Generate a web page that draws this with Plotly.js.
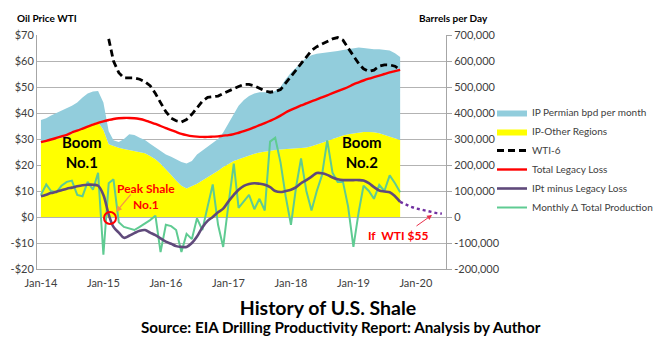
<!DOCTYPE html>
<html>
<head>
<meta charset="utf-8">
<script src="https://cdn.plot.ly/plotly-3.0.1.min.js"></script>
<style>html,body{margin:0;padding:0;background:#fff;}#chart{width:662px;height:352px;}</style>
</head>
<body>
<div id="chart"></div>
<script>
// Monthly data, Jan-2014 .. Oct-2019 (70 months); production values in thousand barrels per day
var startYear = 2014;
var months = [];
for (var i = 0; i < 70; i++) {
  var y = startYear + Math.floor(i / 12), m = (i % 12) + 1;
  months.push(y + '-' + (m < 10 ? '0' + m : m) + '-01');
}
var projMonths = [];
for (var j = 69; j <= 77; j++) {
  var yy = startYear + Math.floor(j / 12), mm = (j % 12) + 1;
  projMonths.push(yy + '-' + (mm < 10 ? '0' + mm : mm) + '-01');
}

var ipOther = [285,290,295,300,305,310,320,330,340,350,360,365,
  335,280,272,266,262,258,254,250,245,235,222,205,
  185,162,140,120,110,118,128,140,152,165,178,192,
  205,215,222,230,237,243,248,252,256,258,260,262,
  263,264,265,267,272,278,285,292,300,307,313,318,
  322,325,327,327,326,322,316,310,303,296];

var ipPermian = [88,90,95,100,103,107,108,110,120,125,123,120,
  105,50,23,22,38,60,61,55,51,47,46,47,
  55,70,82,92,96,97,112,115,116,120,122,133,
  155,180,206,220,228,232,232,228,224,227,240,268,
  292,311,330,345,350,350,345,341,335,331,329,327,
  326,327,323,320,319,323,327,330,327,319];

// WTI-6 in $/bbl (starts Feb-2015)
var wti6 = [null,null,null,null,null,null,null,null,null,null,null,null,
  null,68.5,60,55.5,53.5,53.5,53.5,53,52,50.5,47.5,44,
  40.5,38,37,36.5,37.5,39.5,42,44.5,46,46.3,46.5,47.5,
  48.5,49.5,50.2,51,51,50.5,49.6,48.5,48,48.3,49,51.5,
  54,56.5,59,61.5,64,65.5,66.5,67.5,68.5,69,68,65,
  62,59,57,56,56.5,58,58.5,58.5,58,56.5];

var legacyLoss = [288,293,298,304,310,316,325,332,340,348,355,362,
  368,373,377,380,381,381,380,377,372,365,358,350,
  342,334,327,320,315,311,309,308,308,309,310,313,
  315,319,324,330,337,345,353,361,370,379,390,402,
  412,421,429,437,445,452,460,468,476,484,492,500,
  510,518,525,532,538,544,550,556,561,566];

var iptMinusLegacy = [80,86,92,97,103,109,113,118,122,124,124,120,
  85,10,-38,-60,-80,-72,-62,-53,-50,-60,-70,-82,
  -95,-103,-112,-115,-115,-100,-75,-40,-15,0,18,32,
  60,85,105,120,127,130,128,124,115,100,96,100,
  105,115,130,142,155,169,168,162,152,145,142,142,
  142,142,140,130,115,102,98,95,80,58];

var projection = [58,48,40,33,28,22,18,15,13]; // "If WTI $55"

var monthlyDelta = [85,125,100,95,120,135,140,85,80,135,105,170,
  -145,130,145,-20,-38,-45,-50,-38,-25,-12,5,-135,
  -30,-35,-50,-135,-65,-85,-5,-50,40,125,-30,-115,
  50,205,35,60,85,30,70,25,290,305,210,80,
  -30,120,225,100,25,100,160,295,170,135,135,40,
  -115,20,120,100,70,123,100,160,130,95];

var seriesNames = ['IP Permian bpd per month','IP-Other Regions','WTI-6','Total Legacy Loss','IPt minus Legacy Loss','Monthly \u0394 Total Production'];
var yearTickVals = ['2014-01-01','2015-01-01','2016-01-01','2017-01-01','2018-01-01','2019-01-01','2020-01-01'];
var yearTickText = ['Jan-14','Jan-15','Jan-16','Jan-17','Jan-18','Jan-19','Jan-20'];
var priceTickVals = [-20,-10,0,10,20,30,40,50,60,70];
var priceTickText = ['-$20','-$10','$0','$10','$20','$30','$40','$50','$60','$70'];
var bpdTickVals = [-200000,-100000,0,100000,200000,300000,400000,500000,600000,700000];
var bpdTickText = ['-200,000','-100,000','0','100,000','200,000','300,000','400,000','500,000','600,000','700,000'];

function k(arr) { return arr.map(function (v) { return v === null ? null : v * 1000; }); }

var FONT = 'Lato, "Open Sans", sans-serif';

// y = barrels per day (right), y2 = oil price (left, overlaid on top)
var traces = [
  {x: months, y: k(ipOther), name: seriesNames[1], type: 'scatter', mode: 'lines', stackgroup: 'ip',
   line: {width: 0, color: '#FFFF00'}, fillcolor: '#FFFF00', yaxis: 'y', legendrank: 2},
  {x: months, y: k(ipPermian), name: seriesNames[0], type: 'scatter', mode: 'lines', stackgroup: 'ip',
   line: {width: 0, color: '#92CDDC'}, fillcolor: '#92CDDC', yaxis: 'y', legendrank: 1},
  {x: months, y: k(legacyLoss), name: seriesNames[3], type: 'scatter', mode: 'lines',
   line: {color: '#FF0000', width: 2.4, shape: 'spline'}, yaxis: 'y', legendrank: 4},
  {x: months, y: k(monthlyDelta), name: seriesNames[5], type: 'scatter', mode: 'lines',
   line: {color: '#5FCB92', width: 2}, yaxis: 'y', legendrank: 6},
  {x: months, y: k(iptMinusLegacy), name: seriesNames[4], type: 'scatter', mode: 'lines',
   line: {color: '#604A7B', width: 2.6, shape: 'spline'}, yaxis: 'y', legendrank: 5},
  {x: projMonths, y: k(projection), name: 'If WTI $55', type: 'scatter', mode: 'lines', showlegend: false,
   line: {color: '#7030A0', width: 2.4, dash: 'dot'}, yaxis: 'y'},
  {x: months, y: wti6, name: seriesNames[2], type: 'scatter', mode: 'lines', connectgaps: false,
   line: {color: '#000000', width: 2.8, dash: '7px,4px'}, yaxis: 'y2', legendrank: 3}
];

var L = 37, R = 446, T = 35, B = 269;
function px(x) { return (x - L) / (R - L); }
function py(y) { return (B - y) / (B - T); }

function ann(text, x, y, size, color, extra) {
  var a = {text: text, xref: 'paper', yref: 'paper', x: px(x), y: py(y), showarrow: false,
    xanchor: 'center', yanchor: 'middle', font: {family: FONT, size: size, color: color}};
  for (var key in extra) a[key] = extra[key];
  return a;
}

var layout = {
  width: 662, height: 352,
  margin: {l: L, r: 662 - R, t: T, b: 352 - B, pad: 0, autoexpand: false},
  paper_bgcolor: '#FFFFFF', plot_bgcolor: '#FFFFFF',
  font: {family: FONT, size: 11, color: '#404040'},
  showlegend: true,
  hovermode: false,
  title: {text: '<b>History of U.S. Shale</b>', x: 328 / 662, xref: 'container', xanchor: 'center',
    y: 1 - 308 / 352, yref: 'container', yanchor: 'middle', font: {family: FONT, size: 19.5, color: '#000000'}},
  xaxis: {type: 'date', range: ['2013-12-09', '2020-06-25'], tickvals: yearTickVals, ticktext: yearTickText,
    showgrid: false, zeroline: false, showline: true, linecolor: '#A6A6A6', linewidth: 1,
    ticks: '', ticklabelstandoff: 4, tickfont: {family: FONT, size: 11, color: '#404040'}},
  yaxis: {range: [-200000, 700000], tickvals: bpdTickVals, ticktext: bpdTickText, side: 'right',
    showgrid: true, gridcolor: '#B3B3B3', gridwidth: 1, zeroline: false, showline: true, linecolor: '#A6A6A6',
    ticks: 'outside', ticklen: 5, tickcolor: '#A6A6A6', tickfont: {family: FONT, size: 11, color: '#404040'}},
  yaxis2: {range: [-20, 70], tickvals: priceTickVals, ticktext: priceTickText, overlaying: 'y', side: 'left',
    showgrid: false, zeroline: false, showline: true, linecolor: '#A6A6A6',
    ticks: '', tickfont: {family: FONT, size: 11, color: '#404040'}},
  legend: {x: px(492), y: py(98), xanchor: 'left', yanchor: 'top', bgcolor: 'rgba(0,0,0,0)',
    font: {family: FONT, size: 10, color: '#404040'}, tracegroupgap: 0, itemwidth: 30, traceorder: 'normal'},
  annotations: [
    ann('<b>Oil Price WTI</b>', 15, 18, 10, '#000000', {xanchor: 'left'}),
    ann('<b>Barrels per Day</b>', 417, 18, 10, '#000000', {xanchor: 'left'}),
    ann('<b>Boom<br>No.1</b>', 82, 152, 15, '#000000'),
    ann('<b>Boom<br>No.2</b>', 362, 152, 15, '#000000'),
    ann('<b>Peak Shale<br>No.1</b>', 146, 196, 12, '#FF0000'),
    ann('<b>If\u00a0\u00a0WTI $55</b>', 398, 235, 12, '#FF0000'),
    ann('<b>Source: EIA Drilling Productivity Report: Analysis by Author</b>', 341, 326.5, 15.2, '#000000'),
    {text: '', xref: 'paper', yref: 'paper', x: px(116), y: py(212), ax: 16, ay: -19, showarrow: true,
     arrowhead: 2, arrowsize: 1, arrowwidth: 1.2, arrowcolor: '#F79646'},
    {text: '', xref: 'paper', yref: 'paper', x: px(432), y: py(215), ax: -17, ay: 12, showarrow: true,
     arrowhead: 2, arrowsize: 1, arrowwidth: 1, arrowcolor: '#E8304A'}
  ],
  shapes: [
    {type: 'circle', xref: 'paper', yref: 'paper', xsizemode: 'pixel', ysizemode: 'pixel',
     xanchor: px(110), yanchor: py(218), x0: -6, x1: 6, y0: -6, y1: 6,
     line: {color: '#FF0000', width: 2}, fillcolor: 'rgba(0,0,0,0)'}
  ]
};

Plotly.newPlot('chart', traces, layout, {displayModeBar: false, staticPlot: true});
</script>
</body>
</html>
